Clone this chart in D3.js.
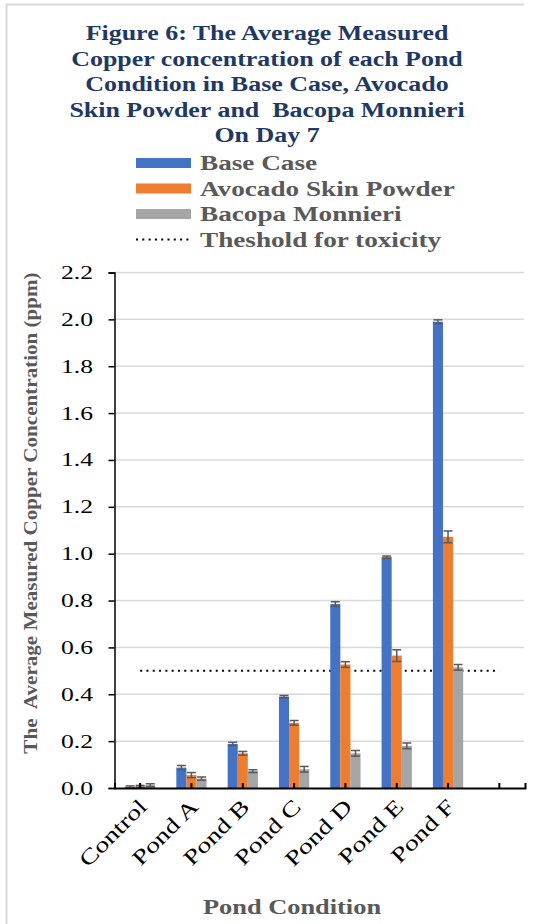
<!DOCTYPE html>
<html>
<head>
<meta charset="utf-8">
<script src="https://cdn.jsdelivr.net/npm/d3@7"></script>
<style>
  html, body { margin: 0; padding: 0; background: #fff; }
  svg { display: block; }
  text { white-space: pre; }
</style>
</head>
<body>
<svg id="chart" width="535" height="924"></svg>
<script>
// chart values
const categories = ["Control", "Pond A", "Pond B", "Pond C", "Pond D", "Pond E", "Pond F", ""];
const seriesNames = ["Base Case", "Avocado Skin Powder", "Bacopa Monnieri"];
const baseCase = [0.005, 0.087, 0.188, 0.39, 0.785, 0.985, 1.99];
const baseCaseErr = [0.004, 0.009, 0.007, 0.005, 0.01, 0.005, 0.008];
const avocado = [0.007, 0.055, 0.148, 0.278, 0.527, 0.565, 1.072];
const avocadoErr = [0.004, 0.011, 0.008, 0.01, 0.012, 0.025, 0.025];
const bacopa = [0.012, 0.04, 0.072, 0.08, 0.148, 0.18, 0.515];
const bacopaErr = [0.006, 0.007, 0.006, 0.012, 0.012, 0.012, 0.012];
const threshold = [0.5, 0.5, 0.5, 0.5, 0.5, 0.5, 0.5, 0.5];
const thresholdName = "Theshold for toxicity";
const yTicks = [0, 0.2, 0.4, 0.6, 0.8, 1.0, 1.2, 1.4, 1.6, 1.8, 2.0, 2.2];
const titleLines = [
  "Figure 6: The Average Measured",
  "Copper concentration of each Pond",
  "Condition in Base Case, Avocado",
  "Skin Powder and  Bacopa Monnieri",
  "On Day 7"
];
const yTitle = "The  Average Measured Copper Concentration (ppm)";
const xTitle = "Pond Condition";

const colors = ["#4472C4", "#ED7D31", "#A5A5A5"];
const values = [baseCase, avocado, bacopa];
const errors = [baseCaseErr, avocadoErr, bacopaErr];

const svg = d3.select("#chart");
const serif = "'Liberation Serif', 'Times New Roman', serif";

// text stretched along its reading direction, like the original export
function addText(str, x, y, o) {
  return svg.append("text")
    .attr("transform", `translate(${x},${y}) rotate(${o.rot || 0}) scale(${o.sx || 1},1)`)
    .attr("font-family", serif)
    .attr("font-size", o.size)
    .attr("font-weight", o.bold ? "bold" : "normal")
    .attr("fill", o.fill || "#000")
    .attr("text-anchor", o.anchor || "start")
    .text(str);
}

// frame
svg.append("line").attr("x1", 6.5).attr("x2", 6.5).attr("y1", 4).attr("y2", 924)
  .attr("stroke", "#d9d9d9").attr("stroke-width", 2);
svg.append("line").attr("x1", 6).attr("x2", 524).attr("y1", 4.5).attr("y2", 4.5)
  .attr("stroke", "#d9d9d9").attr("stroke-width", 2);

// title
titleLines.forEach((t, i) => {
  addText(t, 267, 40 + i * 25.5, { size: 22, bold: true, sx: 1.18, fill: "#1f3864", anchor: "middle" });
});

// scales
const margin = { left: 114.5, right: 525, top: 272.5, bottom: 788 };
const x = d3.scaleBand().domain(categories).range([margin.left, margin.right]).padding(0);
const groupW = x.bandwidth() * 0.59;
const xs = d3.scaleBand().domain(seriesNames).range([0, groupW]).padding(0);
const y = d3.scaleLinear().domain([0, 2.2]).range([margin.bottom, margin.top]);

// gridlines
svg.append("g")
  .selectAll("line")
  .data(yTicks.filter(d => d > 0))
  .join("line")
  .attr("x1", margin.left).attr("x2", margin.right - 1)
  .attr("y1", d => y(d)).attr("y2", d => y(d))
  .attr("stroke", "#d9d9d9").attr("stroke-width", 1.5);

// threshold line
const thrLine = d3.line()
  .x((d, i) => x(categories[i]) + x.bandwidth() / 2)
  .y(d => y(d));
svg.append("path")
  .attr("d", thrLine(threshold))
  .attr("fill", "none")
  .attr("stroke", "#000")
  .attr("stroke-width", 2)
  .attr("stroke-dasharray", "2 4.3");

// bars
values.forEach((vals, s) => {
  const g = svg.append("g");
  g.selectAll("rect")
    .data(vals)
    .join("rect")
    .attr("x", (d, i) => x(categories[i]) + (x.bandwidth() - groupW) / 2 + xs(seriesNames[s]))
    .attr("y", d => y(d))
    .attr("width", xs.bandwidth())
    .attr("height", d => y(0) - y(d))
    .attr("fill", colors[s]);
});

// error bars
values.forEach((vals, s) => {
  const g = svg.append("g").attr("stroke", "#595959").attr("stroke-width", 1.5);
  vals.forEach((v, i) => {
    const cx = x(categories[i]) + (x.bandwidth() - groupW) / 2 + xs(seriesNames[s]) + xs.bandwidth() / 2;
    const e = errors[s][i];
    const hw = 4.5;
    g.append("line").attr("x1", cx).attr("x2", cx).attr("y1", y(v - e)).attr("y2", y(v + e));
    g.append("line").attr("x1", cx - hw).attr("x2", cx + hw).attr("y1", y(v - e)).attr("y2", y(v - e));
    g.append("line").attr("x1", cx - hw).attr("x2", cx + hw).attr("y1", y(v + e)).attr("y2", y(v + e));
  });
});

// y axis
const yAxis = d3.axisLeft(y).tickValues(yTicks).tickSize(6).tickSizeOuter(6).tickFormat(d3.format(".1f"));
const yG = svg.append("g").attr("transform", `translate(${margin.left},0)`).call(yAxis);
yG.selectAll("text").remove();
yG.selectAll("path, line").attr("stroke", "#000").attr("stroke-width", 1.5);
yTicks.forEach(t => {
  addText(d3.format(".1f")(t), 93, y(t) + 6.5, { size: 19, sx: 1.35, anchor: "end" });
});

// x axis, ticks point inward
const xAxis = d3.axisBottom(x).tickSize(-5).tickSizeOuter(-5);
const xG = svg.append("g").attr("transform", `translate(0,${margin.bottom})`).call(xAxis);
xG.selectAll("text").remove();
xG.selectAll("path, line").attr("stroke", "#000").attr("stroke-width", 2);
categories.forEach(c => {
  if (!c) return;
  addText(c, x(c) + x.bandwidth() / 2 + 8, 808, { size: 21.5, sx: 1.3, rot: -45, anchor: "end" });
});

// axis titles
addText(yTitle, 37, 513, { size: 18.5, bold: true, sx: 1.14, rot: -90, fill: "#595959", anchor: "middle" });
addText(xTitle, 292, 914, { size: 22, bold: true, sx: 1.2, fill: "#595959", anchor: "middle" });

// legend
const legY = [163, 188.5, 214, 239.5];
seriesNames.forEach((n, i) => {
  svg.append("rect").attr("x", 136).attr("y", legY[i] - 5).attr("width", 55).attr("height", 10).attr("fill", colors[i]);
  addText(n, 200, legY[i] + 7, { size: 20, bold: true, sx: 1.36, fill: "#595959" });
});
svg.append("line").attr("x1", 136).attr("x2", 191).attr("y1", legY[3]).attr("y2", legY[3])
  .attr("stroke", "#000").attr("stroke-width", 2).attr("stroke-dasharray", "2 4.3");
addText(thresholdName, 200, legY[3] + 7, { size: 20, bold: true, sx: 1.36, fill: "#595959" });
</script>
</body>
</html>
